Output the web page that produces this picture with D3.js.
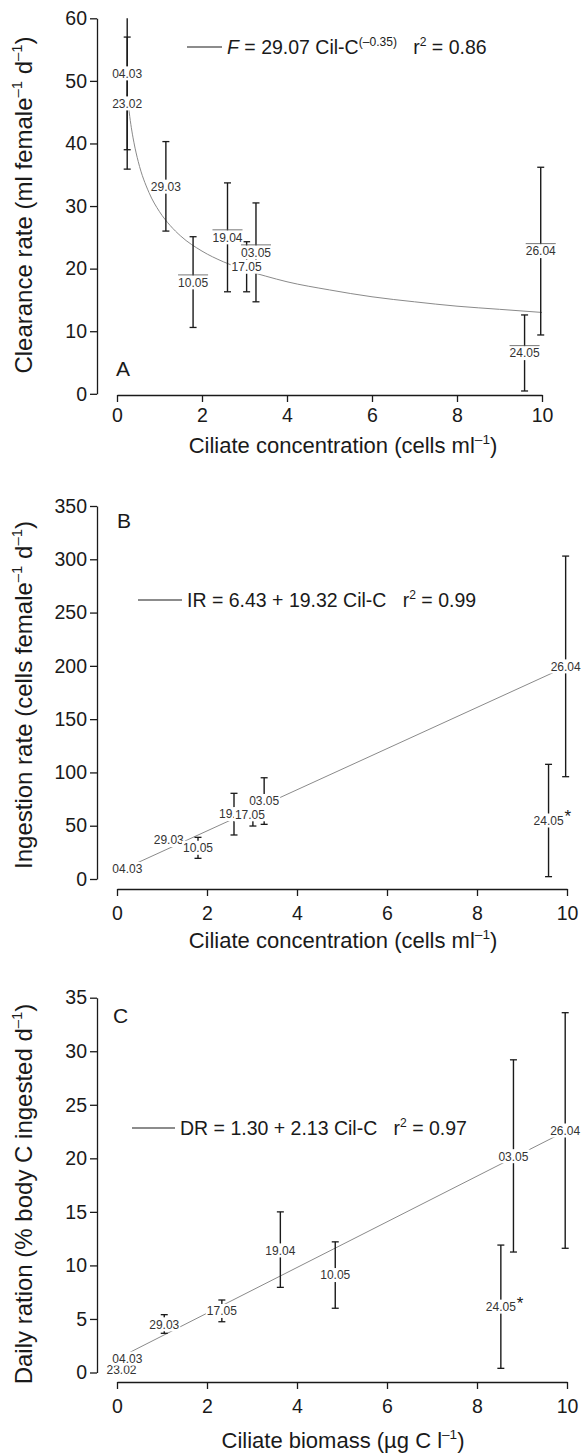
<!DOCTYPE html>
<html lang="en">
<head>
<meta charset="UTF-8">
<title>ciliate feeding panels</title>
<script src="https://d3js.org/d3.v7.min.js"></script>
<style>
  body { margin: 0; background: #fff; }
  svg text { font-family: "Liberation Sans", Arial, Helvetica, sans-serif; fill: #1a1a1a; }
  .domain, .tick line { stroke: #1a1a1a; stroke-width: 1.3; }
  .lab { font-size: 12px; fill: #333; }
</style>
</head>
<body>
<div id="chart"></div>
<script>
// ---- panel A: clearance rate vs ciliate concentration
const datesA = ["04.03", "23.02", "29.03", "10.05", "19.04", "17.05", "03.05", "24.05", "26.04"];
const concA  = [0.24, 0.24, 1.15, 1.79, 2.6, 3.05, 3.27, 9.59, 9.97];
const meanA  = [51.2, 46.4, 33.1, 17.8, 25.0, 20.3, 22.6, 6.5, 22.8];
const lowA   = [39.0, 35.9, 26.0, 10.6, 16.3, 16.3, 14.7, 0.45, 9.4];
const highA  = [63.4, 57.0, 40.3, 25.1, 33.7, 24.3, 30.5, 12.6, 36.2];
const ruledA = ["10.05", "19.04", "03.05", "24.05", "26.04"];
// fitted curve
const fitXA = [0.24, 0.3, 0.4, 0.5, 0.75, 1, 1.25, 1.5, 2, 2.5, 3, 3.5, 4, 5, 6, 7, 8, 9, 10];
const fitYA = [47.9, 44.3, 40.1, 37.1, 32.2, 29.1, 26.9, 25.2, 22.8, 21.1, 19.8, 18.8, 17.9, 16.6, 15.5, 14.7, 14.0, 13.5, 13.0];
const yTicksA = [0, 10, 20, 30, 40, 50, 60];

// ---- panel B: ingestion rate vs ciliate concentration
const datesB = ["04.03", "29.03", "10.05", "19.04", "17.05", "03.05", "24.05", "26.04"];
const concB  = [0.23, 1.15, 1.8, 2.6, 3.02, 3.27, 9.59, 9.97];
const meanB  = [9.4, 36.6, 29.3, 60.9, 60.7, 73.2, 54.9, 199.5];
const lowB   = [null, null, 19.4, 41.3, 49.7, 51.3, 2.2, 96.0];
const highB  = [null, null, 39.1, 80.4, 71.7, 95.0, 107.6, 303.0];
const starB  = ["24.05"];
const fitXB = [0.24, 10];
const fitYB = [11.1, 199.6];
const yTicksB = [0, 50, 100, 150, 200, 250, 300, 350];

// ---- panel C: daily ration vs ciliate biomass
const datesC = ["23.02", "04.03", "29.03", "17.05", "19.04", "10.05", "24.05", "03.05", "26.04"];
const massC  = [0.1, 0.23, 1.05, 2.33, 3.63, 4.85, 8.53, 8.81, 9.96];
const meanC  = [0.3, 1.3, 4.5, 5.75, 11.4, 9.1, 6.15, 20.2, 22.6];
const lowC   = [null, null, 3.66, 4.74, 7.95, 6.0, 0.39, 11.25, 11.6];
const highC  = [null, null, 5.4, 6.77, 15.0, 12.2, 11.9, 29.2, 33.6];
const starC  = ["24.05"];
const fitXC = [0.2, 10];
const fitYC = [1.7, 22.6];
const yTicksC = [0, 5, 10, 15, 20, 25, 30, 35];

const xTicks = [0, 2, 4, 6, 8, 10];

const svg = d3.select("#chart").append("svg")
    .attr("width", 581).attr("height", 1456);

// text with superscript / italic pieces: [string, kind]
function rich(sel, parts, fs) {
    let raised = false;
    parts.forEach(function(p) {
        const t = sel.append("tspan").text(p[0]);
        if (p[1] === "sup") {
            t.attr("font-size", fs * 0.62).attr("dy", -fs * 0.42);
            raised = true;
        } else {
            if (raised) { t.attr("dy", fs * 0.42); raised = false; }
            if (p[1] === "it") t.attr("font-style", "italic");
        }
    });
}

function panel(c) {
    const x = d3.scaleLinear().domain([0, 10]).range(c.xr);
    const y = d3.scaleLinear().domain([0, c.yTicks[c.yTicks.length - 1]]).range(c.yr);
    const g = svg.append("g");

    g.append("g").attr("transform", "translate(0," + c.axisY + ")")
        .call(d3.axisBottom(x).tickValues(xTicks).tickSize(7).tickSizeOuter(0).tickPadding(c.pad))
        .attr("font-size", 19.5).attr("font-family", null);

    g.append("g").attr("transform", "translate(97,0)")
        .call(d3.axisLeft(y).tickValues(c.yTicks).tickSize(7).tickSizeOuter(0).tickPadding(3))
        .attr("font-size", 19.5).attr("font-family", null);

    // axis titles
    rich(g.append("text").attr("x", 343).attr("y", c.xTitleY)
        .attr("text-anchor", "middle").attr("font-size", 22), c.xTitle, 22);
    rich(g.append("text").attr("transform", "translate(32," + c.yTitleY + ") rotate(-90)")
        .attr("text-anchor", "middle").attr("font-size", 24), c.yTitle, 24);

    g.append("text").attr("x", c.letter[0]).attr("y", c.letter[1])
        .attr("font-size", 21).text(c.name);

    // legend of the fit
    g.append("line").attr("x1", c.leg[0]).attr("x2", c.leg[1])
        .attr("y1", c.leg[2]).attr("y2", c.leg[2])
        .attr("stroke", "#1a1a1a").attr("stroke-width", 1.1);
    rich(g.append("text").attr("x", c.leg[1] + 5).attr("y", c.leg[2] + 7)
        .attr("font-size", 19.5).style("white-space", "pre"), c.eq, 19.5);

    // fit line
    const fit = c.fitX.map(function(v, i) { return [v, c.fitY[i]]; });
    g.append("path").datum(fit)
        .attr("d", d3.line().x(d => x(d[0])).y(d => y(d[1])).curve(d3.curveMonotoneX))
        .attr("fill", "none").attr("stroke", "#8a8a8a").attr("stroke-width", 1);

    const pts = c.dates.map(function(d, i) {
        return { date: d, x: c.xs[i], m: c.mean[i], lo: c.low[i], hi: c.high[i] };
    });
    const yMax = y.domain()[1];

    // error bars
    pts.forEach(function(p) {
        if (p.lo === null) return;
        const px = x(p.x);
        const top = Math.min(p.hi, yMax);
        g.append("line").attr("x1", px).attr("x2", px)
            .attr("y1", y(p.lo)).attr("y2", y(top))
            .attr("stroke", "#1a1a1a").attr("stroke-width", 1.4);
        const caps = p.hi <= yMax ? [p.lo, p.hi] : [p.lo];
        caps.forEach(function(v) {
            g.append("line").attr("x1", px - 3.5).attr("x2", px + 3.5)
                .attr("y1", y(v)).attr("y2", y(v))
                .attr("stroke", "#1a1a1a").attr("stroke-width", 1.3);
        });
    });

    // date labels on white boxes
    pts.forEach(function(p) {
        const lx = x(p.x) + (c.shift[p.date] || 0);
        const ly = y(p.m);
        const lg = g.append("g").attr("transform", "translate(" + lx + "," + ly + ")");
        const box = lg.append("rect").attr("fill", "#fff");
        const t = lg.append("text").attr("class", "lab")
            .attr("text-anchor", "middle").attr("dy", "0.36em").text(p.date);
        const w = t.node().getComputedTextLength();
        box.attr("x", -w / 2 - 1).attr("y", -7).attr("width", w + 2).attr("height", 14);
        if (c.ruled.indexOf(p.date) >= 0) {
            lg.append("line").attr("x1", -w / 2).attr("x2", w / 2)
                .attr("y1", -7.5).attr("y2", -7.5)
                .attr("stroke", "#555").attr("stroke-width", 0.8);
        }
        if (c.star.indexOf(p.date) >= 0) {
            lg.append("text").attr("x", w / 2 + 1).attr("y", 2)
                .attr("font-size", 17).text("*");
        }
    });
}

panel({
    name: "A", dates: datesA, xs: concA, mean: meanA, low: lowA, high: highA,
    fitX: fitXA, fitY: fitYA, yTicks: yTicksA, ruled: ruledA, star: [], shift: {},
    xr: [117, 542], yr: [393.8, 18.3], axisY: 395, pad: 6,
    xTitleY: 453, yTitleY: 205, letter: [116, 376], leg: [187, 222, 47],
    xTitle: [["Ciliate concentration (cells ml"], ["\u20131", "sup"], [")"]],
    yTitle: [["Clearance rate (ml female"], ["\u20131", "sup"], [" d"], ["\u20131", "sup"], [")"]],
    eq: [["F", "it"], [" = 29.07 Cil-C"], ["(\u20130.35)", "sup"], ["   r"], ["2", "sup"], [" = 0.86"]]
});

panel({
    name: "B", dates: datesB, xs: concB, mean: meanB, low: lowB, high: highB,
    fitX: fitXB, fitY: fitYB, yTicks: yTicksB, ruled: [], star: starB, shift: { "17.05": -3 },
    xr: [117, 567], yr: [879, 506], axisY: 889, pad: 10,
    xTitleY: 948, yTitleY: 695, letter: [117, 528], leg: [138, 182, 600],
    xTitle: [["Ciliate concentration (cells ml"], ["\u20131", "sup"], [")"]],
    yTitle: [["Ingestion rate (cells female"], ["\u20131", "sup"], [" d"], ["\u20131", "sup"], [")"]],
    eq: [["IR = 6.43 + 19.32 Cil-C   r"], ["2", "sup"], [" = 0.99"]]
});

panel({
    name: "C", dates: datesC, xs: massC, mean: meanC, low: lowC, high: highC,
    fitX: fitXC, fitY: fitYC, yTicks: yTicksC, ruled: [], star: starC, shift: {},
    xr: [117, 567], yr: [1372.5, 997.7], axisY: 1382, pad: 10,
    xTitleY: 1448, yTitleY: 1194, letter: [113, 1023], leg: [132, 175, 1128],
    xTitle: [["Ciliate biomass (\u00b5g C l"], ["\u20131", "sup"], [")"]],
    yTitle: [["Daily ration (% body C ingested d"], ["\u20131", "sup"], [")"]],
    eq: [["DR = 1.30 + 2.13 Cil-C   r"], ["2", "sup"], [" = 0.97"]]
});
</script>
</body>
</html>
